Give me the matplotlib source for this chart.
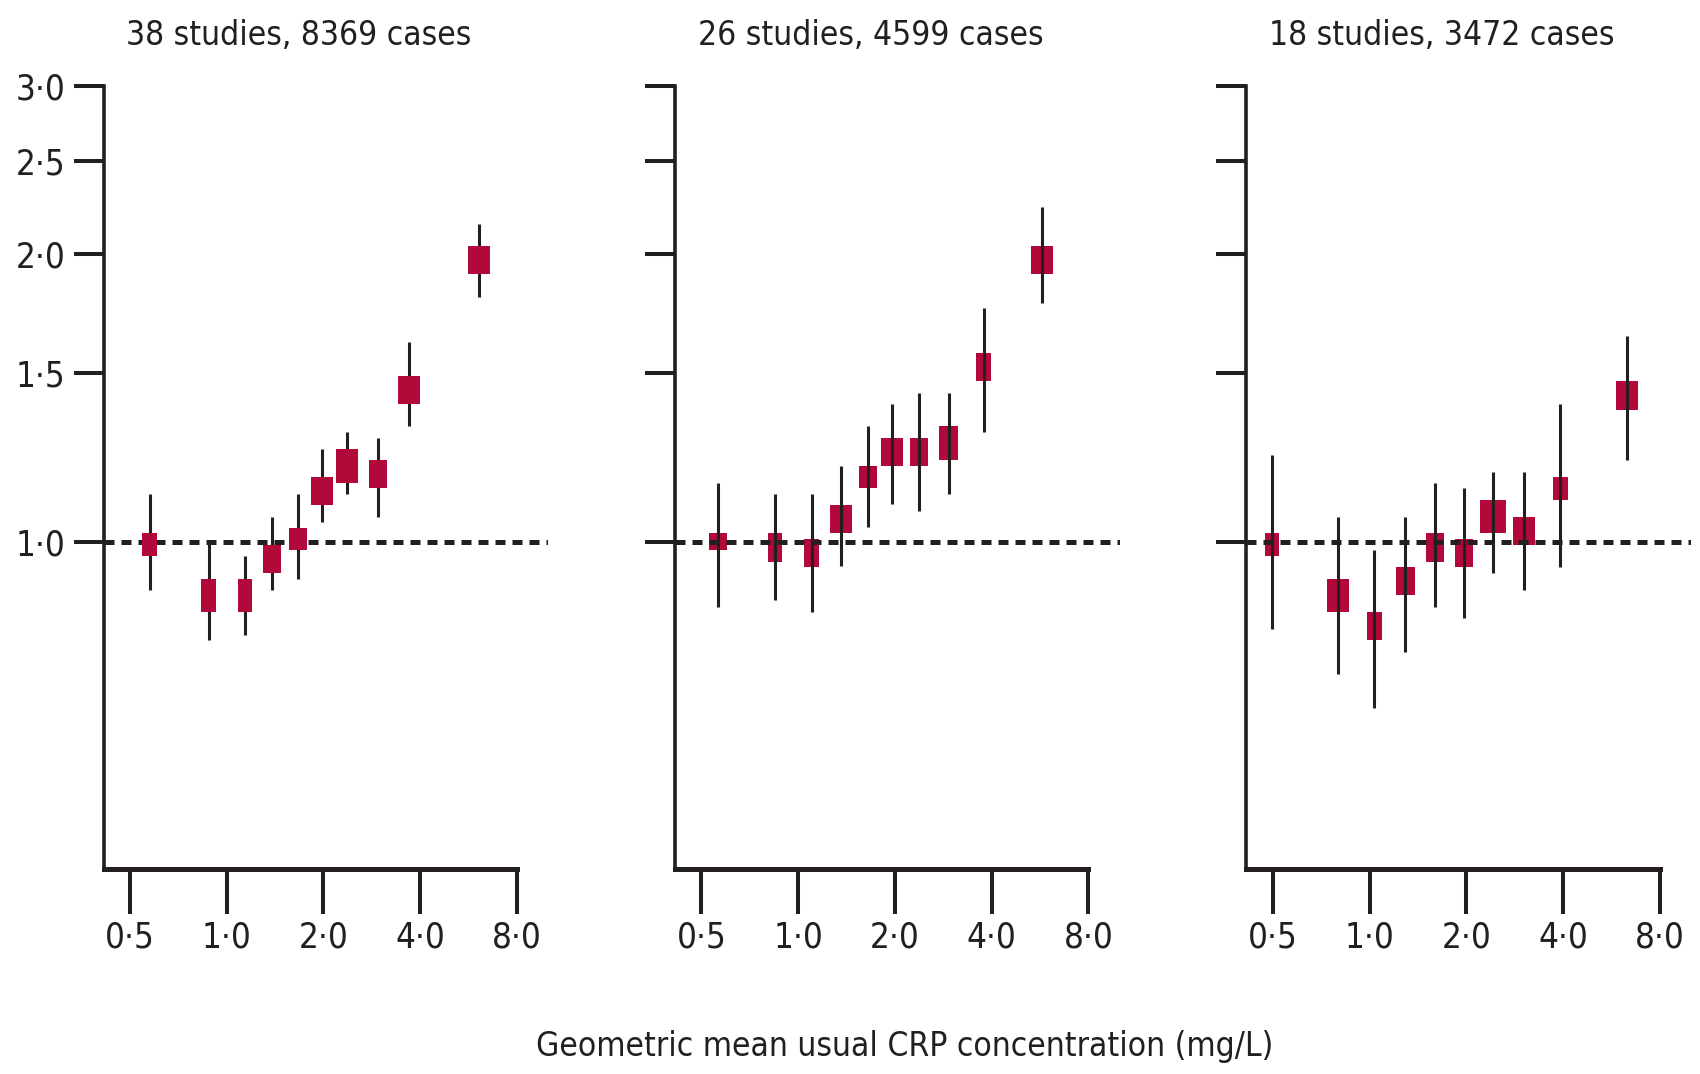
import numpy as np
import matplotlib.pyplot as plt
from matplotlib.patches import Rectangle
from matplotlib.transforms import ScaledTranslation
from matplotlib.ticker import NullLocator

plt.rcParams['font.family'] = ['DejaVu Sans']
plt.rcParams['font.stretch'] = 'condensed'

DARK = '#231f20'
RED = '#b2083a'
DPI = 100

titles = ['38 studies, 8369 cases', '26 studies, 4599 cases', '18 studies, 3472 cases']
xticks = [0.5, 1.0, 2.0, 4.0, 8.0]
xticklabels = ['0·5', '1·0', '2·0', '4·0', '8·0']
yticks = [1.0, 1.5, 2.0, 2.5, 3.0]
yticklabels = ['1·0', '1·5', '2·0', '2·5', '3·0']

# geometric mean CRP, relative risk, lower / upper 95% CI
crp1 = [0.576, 0.879, 1.142, 1.386, 1.670, 1.983, 2.372, 2.962, 3.698, 6.11]
rr1 = [0.994, 0.879, 0.879, 0.960, 1.007, 1.130, 1.200, 1.178, 1.442, 1.972]
lo1 = [0.891, 0.789, 0.799, 0.891, 0.914, 1.049, 1.122, 1.062, 1.322, 1.804]
hi1 = [1.122, 0.994, 0.966, 1.062, 1.122, 1.251, 1.303, 1.284, 1.618, 2.149]

crp2 = [0.563, 0.849, 1.102, 1.361, 1.652, 1.962, 2.380, 2.940, 3.778, 5.745]
rr2 = [1.000, 0.987, 0.974, 1.057, 1.170, 1.242, 1.242, 1.269, 1.525, 1.973]
lo2 = [0.855, 0.868, 0.845, 0.942, 1.035, 1.094, 1.078, 1.123, 1.304, 1.779]
hi2 = [1.152, 1.122, 1.122, 1.200, 1.322, 1.394, 1.431, 1.431, 1.757, 2.241]

crp3 = [0.496, 0.797, 1.034, 1.292, 1.596, 1.964, 2.418, 3.019, 3.921, 6.32]
rr3 = [0.994, 0.879, 0.816, 0.910, 0.986, 0.973, 1.063, 1.026, 1.137, 1.423]
lo3 = [0.810, 0.727, 0.670, 0.767, 0.855, 0.832, 0.928, 0.890, 0.941, 1.218]
hi3 = [1.233, 1.062, 0.980, 1.062, 1.152, 1.138, 1.183, 1.183, 1.394, 1.642]

# box width / height (px), reflecting study weight
box1 = [(15, 23), (15, 33), (14, 33), (18, 28), (18, 22), (22, 28), (22, 34), (18, 28), (22, 28), (22, 28)]
box2 = [(18, 17), (14, 29), (15, 28), (22, 28), (18, 22), (22, 28), (18, 28), (19, 34), (15, 28), (22, 28)]
box3 = [(14, 23), (22, 33), (15, 28), (19, 28), (18, 29), (18, 28), (26, 33), (22, 28), (15, 23), (22, 29)]

panels = [(crp1, rr1, lo1, hi1, box1), (crp2, rr2, lo2, hi2, box2), (crp3, rr3, lo3, hi3, box3)]
lefts = [0.0609, 0.3971, 0.7332]

fig = plt.figure(figsize=(17, 10.74), dpi=DPI)

for i, (crp, rr, lo, hi, box) in enumerate(panels):
	ax = fig.add_axes([lefts[i], 0.1913, 0.2615, 0.7289])
	ax.set_xscale('log', base=2)
	ax.set_yscale('log')
	ax.set_xlim(0.414, 10.0)
	ax.set_ylim(0.455, 3.0)
	ax.set_xticks(xticks)
	ax.set_xticklabels(xticklabels)
	ax.set_yticks(yticks)
	ax.set_yticklabels(yticklabels)
	ax.xaxis.set_minor_locator(NullLocator())
	ax.yaxis.set_minor_locator(NullLocator())

	for s in ['top', 'right']:
		ax.spines[s].set_visible(False)
	ax.spines['left'].set_linewidth(2.6)
	ax.spines['bottom'].set_linewidth(3.6)
	ax.spines['left'].set_color(DARK)
	ax.spines['bottom'].set_color(DARK)
	ax.spines['bottom'].set_bounds(0.414, 8.0)

	ax.tick_params(axis='y', length=21.6, width=2.9, pad=6, labelsize=25, colors=DARK, labelleft=(i == 0))
	ax.tick_params(axis='x', length=32.4, width=2.9, pad=5, labelsize=25, colors=DARK)

	if i == 0:
		zl, zw, zb = 2, 3, 4
	else:
		zb, zw, zl = 2, 3, 4
	ax.axhline(1.0, color=DARK, lw=3.6, dashes=(2.0, 1.4), zorder=zl)
	ax.vlines(crp, lo, hi, color=DARK, lw=2.2, zorder=zw)
	for x, y, (w, h) in zip(crp, rr, box):
		trans = fig.dpi_scale_trans + ScaledTranslation(x, y, ax.transData)
		ax.add_patch(Rectangle((-w / 2 / DPI, -h / 2 / DPI), w / DPI, h / DPI,
			transform=trans, facecolor=RED, lw=0, zorder=zb))

	ax.text(0.44, 1.0 + 50 / (0.7289 * 1074), titles[i], transform=ax.transAxes,
		ha='center', va='center', fontsize=24, color=DARK)

fig.text(0.532, 0.026, 'Geometric mean usual CRP concentration (mg/L)', ha='center', va='center',
	fontsize=24, color=DARK)

fig.savefig('out.png', dpi=DPI)
